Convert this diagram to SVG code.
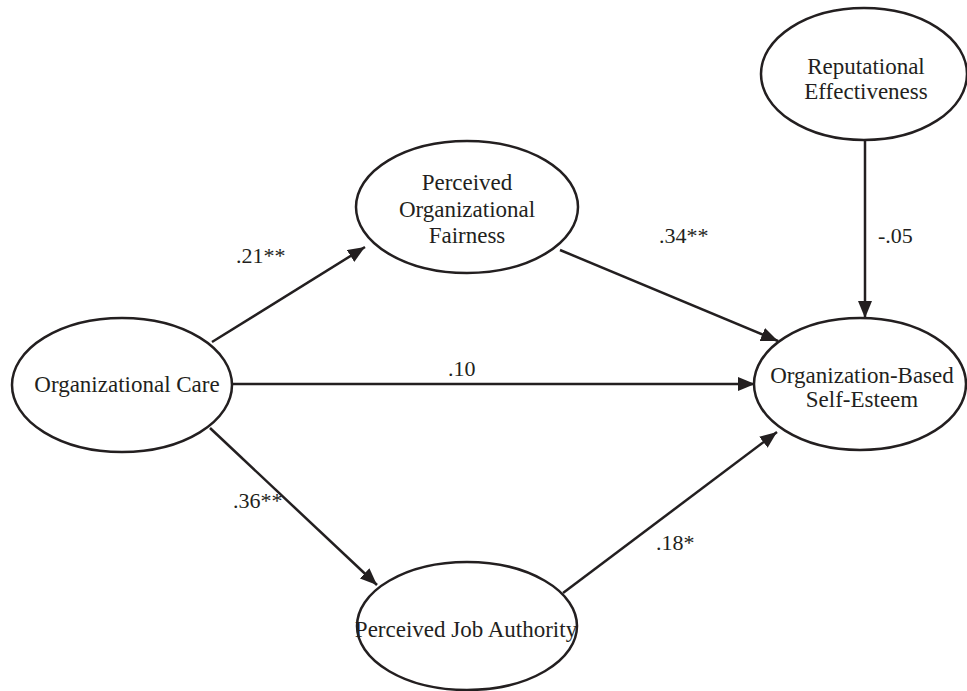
<svg xmlns="http://www.w3.org/2000/svg" width="967" height="691" viewBox="0 0 967 691">
<defs>
<marker id="arr" markerUnits="userSpaceOnUse" markerWidth="18" markerHeight="14" refX="17" refY="7" orient="auto">
<path d="M0,0 L17,7 L0,14 z" fill="#231f20"/>
</marker>
<style>
.node ellipse{fill:#fff;stroke:#231f20;stroke-width:2.5}
text{font-family:'Liberation Serif','Times New Roman',Times,serif;font-size:22px;fill:#231f20}
.n text{text-anchor:middle;font-size:23px}
.edge{stroke:#231f20;stroke-width:2.5;fill:none;marker-end:url(#arr)}
</style>
</defs>
<rect width="967" height="691" fill="#fff"/>
<g id="connectors">
<line class="edge" x1="212" y1="342" x2="365" y2="247"/>
<line class="edge" x1="233" y1="384" x2="755" y2="384"/>
<line class="edge" x1="210" y1="428" x2="377" y2="585"/>
<line class="edge" x1="560" y1="250" x2="778" y2="341"/>
<line class="edge" x1="563" y1="593" x2="777" y2="432"/>
<line class="edge" x1="865" y1="140" x2="865" y2="318"/>
<text x="236" y="263">.21**</text>
<text x="448" y="376">.10</text>
<text x="233" y="508">.36**</text>
<text x="659" y="243">.34**</text>
<text x="656" y="550">.18*</text>
<text x="878" y="243">-.05</text>
</g>
<g id="organizational-care" class="node n">
<ellipse cx="122" cy="385" rx="110" ry="67"/>
<text x="127" y="392">Organizational Care</text>
</g>
<g id="perceived-organizational-fairness" class="node n">
<ellipse cx="467" cy="207" rx="111" ry="66"/>
<text x="467" y="190">Perceived</text>
<text x="467" y="217">Organizational</text>
<text x="467" y="243">Fairness</text>
</g>
<g id="perceived-job-authority" class="node n">
<ellipse cx="467" cy="626" rx="110" ry="64"/>
<text x="466" y="637">Perceived Job Authority</text>
</g>
<g id="organization-based-self-esteem" class="node n">
<ellipse cx="860" cy="384" rx="106" ry="66"/>
<text x="862" y="383">Organization-Based</text>
<text x="862" y="407">Self-Esteem</text>
</g>
<g id="reputational-effectiveness" class="node n">
<ellipse cx="864" cy="74" rx="103" ry="66"/>
<text x="866" y="74">Reputational</text>
<text x="866" y="99">Effectiveness</text>
</g>
</svg>
